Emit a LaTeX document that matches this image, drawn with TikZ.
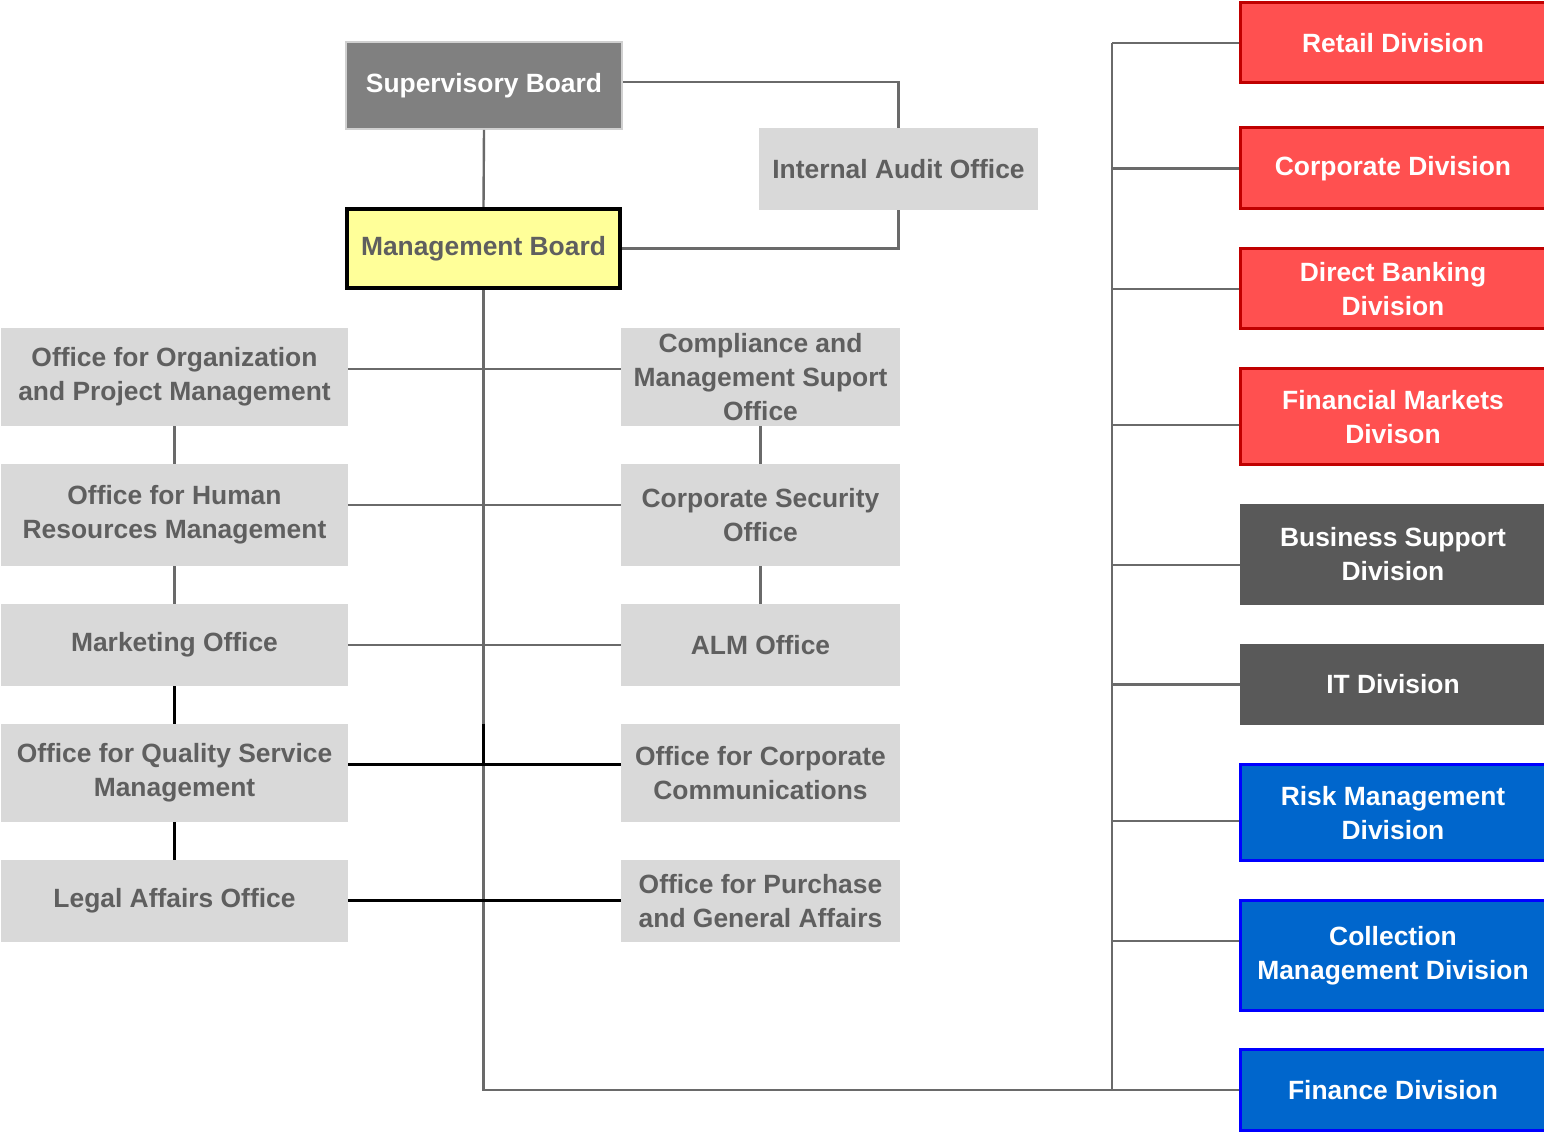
\documentclass[tikz,border=0pt]{standalone}
\usepackage{fontspec}
\setmainfont{Liberation Sans}
\usetikzlibrary{positioning}
\definecolor{officefill}{HTML}{D9D9D9}
\definecolor{officetext}{HTML}{5F5F5F}
\definecolor{supfill}{HTML}{808080}
\definecolor{supline}{HTML}{D0D0D0}
\definecolor{mgmtfill}{HTML}{FFFF99}
\definecolor{redfill}{HTML}{FF5050}
\definecolor{redline}{HTML}{C00000}
\definecolor{darkfill}{HTML}{595959}
\definecolor{bluefill}{HTML}{0066CC}
\definecolor{blueline}{HTML}{0000FF}
\definecolor{linkgrey}{HTML}{6A6A6A}
\tikzset{
  unitbox/.style={rectangle,inner sep=0pt,align=center,
    font=\fontsize{13.2}{17}\selectfont\bfseries},
  officebox/.style={unitbox,fill=officefill,text=officetext},
  supbox/.style={unitbox,fill=supfill,draw=supline,line width=1pt,text=white},
  mgmtbox/.style={unitbox,fill=mgmtfill,draw=black,line width=2pt,text=officetext},
  redbox/.style={unitbox,fill=redfill,draw=redline,line width=1.5pt,text=white},
  darkbox/.style={unitbox,fill=darkfill,text=white},
  bluebox/.style={unitbox,fill=bluefill,draw=blueline,line width=1.5pt,text=white},
  leftcol/.style={officebox,minimum width=173.5pt},
  midcol/.style={officebox,minimum width=139.5pt},
  rightcol/.style={minimum width=153pt},
  link/.style={draw=linkgrey,line width=1.2pt},
  strong/.style={draw=black,line width=1.5pt}
}
\begin{document}
\begin{tikzpicture}[x=0.5pt,y=-0.5pt]
  \useasboundingbox (0,0) rectangle (1544,1133);
  % boards
  \node[supbox,minimum width=138pt,minimum height=43.5pt] (sup) at (484,85.5) {Supervisory Board};
  \node[officebox,minimum width=139.5pt,minimum height=41pt] (audit) at (898.5,169) {Internal Audit Office};
  \node[mgmtbox,minimum width=136.5pt,minimum height=39.5pt] (mgmt) at (483.5,248.5) {Management Board};
  % left offices
  \node[leftcol,minimum height=49pt] (org) at (174.5,377) {Office for Organization\\and Project Management};
  \node[leftcol,minimum height=51pt] (hr) at (174.5,515) {Office for Human\\Resources Management};
  \node[leftcol,minimum height=41pt] (mkt) at (174.5,645) {Marketing Office};
  \node[leftcol,minimum height=49pt] (qual) at (174.5,773) {Office for Quality Service\\Management};
  \node[leftcol,minimum height=41pt] (legal) at (174.5,901) {Legal Affairs Office};
  % middle offices
  \node[midcol,minimum height=49pt] (comp) at (760.5,377) {Compliance and\\Management Suport\\Office};
  \node[midcol,minimum height=51pt] (sec) at (760.5,515) {Corporate Security\\Office};
  \node[midcol,minimum height=41pt] (alm) at (760.5,645) {ALM Office};
  \node[midcol,minimum height=49pt] (comm) at (760.5,773) {Office for Corporate\\Communications};
  \node[midcol,minimum height=41pt] (purch) at (760.5,901) {Office for Purchase\\and General Affairs};
  % divisions
  \node[redbox,rightcol,minimum height=40pt] (retail) at (1393,43) {Retail Division};
  \node[redbox,rightcol,minimum height=40.5pt] (corp) at (1393,168.5) {Corporate Division};
  \node[redbox,rightcol,minimum height=40pt] (direct) at (1393,289) {Direct Banking\\Division};
  \node[redbox,rightcol,minimum height=48pt] (finmkt) at (1393,417) {Financial Markets\\Divison};
  \node[darkbox,rightcol,minimum height=50.5pt] (bsd) at (1393,554.5) {Business Support\\Division};
  \node[darkbox,rightcol,minimum height=40.5pt] (it) at (1393,684.5) {IT Division};
  \node[bluebox,rightcol,minimum height=48pt] (risk) at (1393,813) {Risk Management\\Division};
  \node[bluebox,rightcol,minimum height=55pt] (coll) at (1393,956) {Collection\\Management Division};
  \node[bluebox,rightcol,minimum height=40pt] (fin) at (1393,1090) {Finance Division};
  \coordinate (bus) at (1112,0);

  % board links
  \draw[link] ([yshift=1.75pt]sup.east) -| (audit.north);
  \draw[link] (audit.south) |- (mgmt.east);
  \draw[link] (sup.south) -- (mgmt.north);
  \draw[link] (mgmt.south) |- (fin.west);
  % office rows
  \foreach \n/\m/\s in {org/comp/4,hr/sec/5,mkt/alm/0}{
    \draw[link] ([yshift=\s pt]\n.east) -- ([yshift=\s pt]\n.east -| \m.west);
  }
  \foreach \n/\m/\s in {qual/comm/4,legal/purch/0}{
    \draw[strong] ([yshift=\s pt]\n.east) -- ([yshift=\s pt]\n.east -| \m.west);
  }
  \draw[strong] (qual.north -| mgmt.south) -- ([yshift=4pt]qual.east -| mgmt.south);
  \draw[link] (org) -- (hr);
  \draw[link] (hr) -- (mkt);
  \draw[strong] (mkt) -- (qual);
  \draw[strong] (qual) -- (legal);
  \draw[link] (comp) -- (sec);
  \draw[link] (sec) -- (alm);
  % division bus
  \draw[link] (retail.west -| bus) -- (fin.west -| bus);
  \foreach \n/\s in {retail/0,corp/0,direct/0,finmkt/-4,bsd/-5.25,it/0,risk/-4,coll/7.5}{
    \draw[link] ([yshift=\s pt]\n.west) -- ([yshift=\s pt]\n.west -| bus);
  }
\end{tikzpicture}
\end{document}
